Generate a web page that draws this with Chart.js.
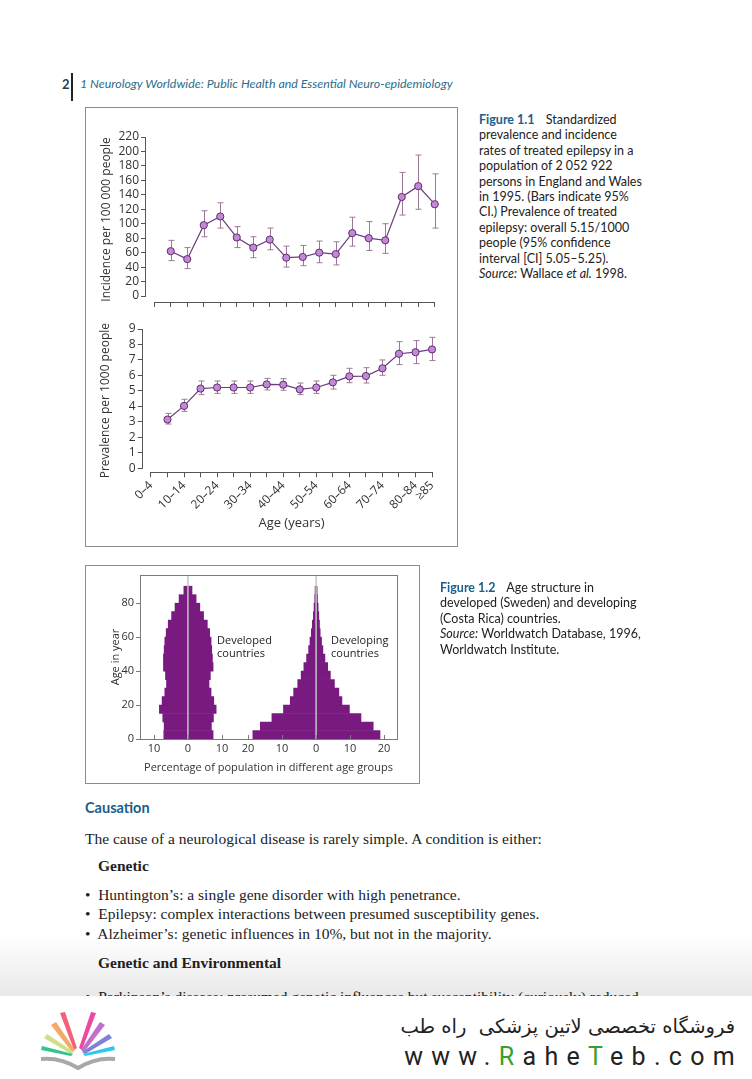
<!DOCTYPE html>
<html>
<head>
<meta charset="utf-8">
<script src="https://cdn.jsdelivr.net/npm/chart.js@4.4.1/dist/chart.umd.min.js"></script>
<style>
html, body { margin: 0; padding: 0; background: #fff; }
body { width: 752px; height: 1079px; position: relative; overflow: hidden; font-family: Lato, sans-serif; color: #222; }
.abs { position: absolute; white-space: nowrap; }
.box { position: absolute; border: 1px solid #8c8c8c; box-sizing: border-box; }
canvas { position: absolute; }
.cap { position: absolute; font-family: Lato, sans-serif; font-size: 12.5px; line-height: 15.4px; color: #222; white-space: nowrap; }
.cap b { color: #1b5e8c; font-weight: 700; margin-right: 8px; }
.serif { font-family: "Liberation Serif", serif; font-size: 15.5px; color: #222; }
.note { position: absolute; font-family: "Open Sans", sans-serif; font-size: 11px; line-height: 13px; color: #222; white-space: nowrap; }
</style>
</head>
<body>

<!-- running header -->
<div class="abs" style="left:62px; top:76px; font: 700 13px Lato, sans-serif; color:#1d3f5a;">2</div>
<div class="abs" style="left:71px; top:73px; width:1.5px; height:28px; background:#222;"></div>
<div class="abs" style="left:80px; top:76px; font: italic 12.4px Lato, sans-serif; color:#2a6d8c;">1 Neurology Worldwide: Public Health and Essential Neuro-epidemiology</div>

<!-- figure 1.1 -->
<div class="box" style="left:85px; top:107px; width:373px; height:440px;"></div>
<canvas id="incidenceChart" width="373" height="200" style="left:85px; top:117px; width:373px; height:200px;"></canvas>
<canvas id="prevalenceChart" width="373" height="236" style="left:85px; top:310px; width:373px; height:236px;"></canvas>

<div class="cap" style="left:479px; top:112px;">
<b>Figure 1.1</b> Standardized<br>
prevalence and incidence<br>
rates of treated epilepsy in a<br>
population of 2 052 922<br>
persons in England and Wales<br>
in 1995. (Bars indicate 95%<br>
CI.) Prevalence of treated<br>
epilepsy: overall 5.15/1000<br>
people (95% confidence<br>
interval [CI] 5.05–5.25).<br>
<i>Source:</i> Wallace <i>et al.</i> 1998.
</div>

<!-- figure 1.2 -->
<div class="box" style="left:85px; top:565px; width:335px; height:219px;"></div>
<canvas id="pyramidChart" width="335" height="218" style="left:85px; top:565px; width:335px; height:218px;"></canvas>
<div class="note" style="left:217px; top:633px;">Developed<br>countries</div>
<div class="note" style="left:331px; top:633px;">Developing<br>countries</div>

<div class="cap" style="left:440px; top:580px;">
<b>Figure 1.2</b> Age structure in<br>
developed (Sweden) and developing<br>
(Costa Rica) countries.<br>
<i>Source:</i> Worldwatch Database, 1996,<br>
Worldwatch Institute.
</div>

<!-- body text -->
<div class="abs" style="left:85px; top:799px; font: 700 14.5px Lato, sans-serif; color:#1b5e8c;">Causation</div>
<div class="abs serif" style="left:85px; top:830px;">The cause of a neurological disease is rarely simple. A condition is either:</div>
<div class="abs serif" style="left:98px; top:857px; font-weight:700;">Genetic</div>
<div class="abs serif" style="left:85px; top:886px;">•&nbsp; Huntington’s: a single gene disorder with high penetrance.</div>
<div class="abs serif" style="left:85px; top:905px;">•&nbsp; Epilepsy: complex interactions between presumed susceptibility genes.</div>
<div class="abs serif" style="left:85px; top:925px;">•&nbsp; Alzheimer’s: genetic influences in 10%, but not in the majority.</div>
<div class="abs serif" style="left:98px; top:954px; font-weight:700;">Genetic and Environmental</div>
<div class="abs serif" style="left:85px; top:988px;">•&nbsp; Parkinson’s disease: presumed genetic influences but susceptibility (curiously) reduced</div>

<!-- watermark banner -->
<div class="abs" style="left:0; top:935px; width:752px; height:61px; background:linear-gradient(to bottom, rgba(0,0,0,0) 0%, rgba(0,0,0,0.09) 100%);"></div>
<div class="abs" style="left:0; top:996px; width:752px; height:83px; background:#fff;"></div>
<svg class="abs" style="left:38px; top:1010px;" width="80" height="60" viewBox="0 0 80 60">
  <polygon points="36,40 22,3 27,2 39,38" fill="#f2607a"/>
  <polygon points="34,42 13,15 18,12 37,40" fill="#f6a868"/>
  <polygon points="33,44 6,28 9,24 36,42" fill="#cfe08a"/>
  <polygon points="33,46 3,40 4,36 35,44" fill="#35c48c"/>
  <polygon points="44,40 58,3 53,2 41,38" fill="#ec4aa0"/>
  <polygon points="46,42 67,15 62,12 43,40" fill="#c070cc"/>
  <polygon points="47,44 74,28 71,24 44,42" fill="#7d82d8"/>
  <polygon points="47,46 77,40 76,36 45,44" fill="#30c8ea"/>
  <path d="M3 49 Q22 47 40 58 Q58 47 77 49" fill="none" stroke="#a8a8a8" stroke-width="4"/>
</svg>
<div class="abs" style="right:17px; top:1015px; font: 19.5px 'DejaVu Sans', sans-serif; color:#222; direction:rtl;">فروشگاه تخصصی لاتین پزشکی&nbsp; راه طب</div>
<div class="abs" style="right:9px; top:1042px; font: 25px Roboto, sans-serif; letter-spacing:8.3px; color:#222;">www.<span style="color:#3a9e2a">R</span>ahe<span style="color:#3a9e2a">T</span>eb.com</div>

<script>
// ---- data ----
const ageGroups = ['0–4', '5–9', '10–14', '15–19', '20–24', '25–29', '30–34', '35–39', '40–44',
                   '45–49', '50–54', '55–59', '60–64', '65–69', '70–74', '75–79', '80–84', '≥85'];

// incidence per 100 000 people, with 95% CI
const incidence     = [null, 62, 51, 98, 110, 81, 67, 78, 53, 54, 60, 58, 87, 80, 77, 137, 152, 127];
const incidenceLow  = [null, 49, 38, 82, 94, 67, 53, 64, 40, 42, 46, 43, 69, 63, 59, 112, 120, 94];
const incidenceHigh = [null, 77, 67, 118, 129, 96, 82, 94, 69, 70, 76, 75, 109, 103, 100, 171, 195, 169];

// prevalence per 1000 people, with 95% CI
const prevalence     = [null, 3.15, 4.03, 5.15, 5.22, 5.22, 5.22, 5.42, 5.40, 5.10, 5.22, 5.55, 5.94, 5.96, 6.46, 7.40, 7.50, 7.68];
const prevalenceLow  = [null, 2.86, 3.68, 4.76, 4.84, 4.84, 4.84, 5.06, 5.04, 4.76, 4.84, 5.12, 5.53, 5.51, 6.01, 6.70, 6.76, 6.96];
const prevalenceHigh = [null, 3.55, 4.46, 5.64, 5.64, 5.64, 5.64, 5.81, 5.79, 5.51, 5.64, 6.01, 6.46, 6.50, 7.00, 8.18, 8.25, 8.46];

// age pyramids: centre of each 5-year band, % on left / right of the centre line
const bandCentres     = [2.5, 7.5, 12.5, 17.5, 22.5, 27.5, 32.5, 37.5, 42.5, 47.5, 52.5, 57.5, 62.5, 67.5, 72.5, 77.5, 82.5, 87.5];
const developedLeft   = [7.1, 7.0, 7.4, 8.4, 7.6, 6.8, 6.3, 6.6, 7.2, 7.2, 7.0, 6.8, 6.4, 5.8, 4.8, 3.8, 2.6, 1.2];
const developedRight  = [7.4, 6.9, 7.5, 8.3, 7.6, 6.8, 6.2, 6.6, 7.4, 7.2, 7.0, 6.8, 6.4, 5.7, 4.6, 3.5, 2.4, 1.2];
const developingLeft  = [18.6, 16.4, 13.0, 9.6, 7.6, 6.6, 5.4, 4.4, 3.6, 2.8, 2.2, 1.8, 1.4, 1.1, 0.8, 0.6, 0.4, 0.3];
const developingRight = [18.8, 16.8, 13.2, 9.8, 7.6, 6.7, 5.4, 4.2, 3.4, 2.6, 2.0, 1.6, 1.2, 1.0, 0.8, 0.6, 0.4, 0.3];
const leftPyramidTicks  = [-10, 0, 10];
const rightPyramidTicks = [-20, -10, 0, 10, 20];
const ageTicksStep = 20;

// ---- styling ----
Chart.defaults.font.family = "'Open Sans', sans-serif";
Chart.defaults.color = '#333';
const axisColor = '#555';
const lineColor = '#6d3a7d';
const markerFill = '#c389d6';
const errorColor = '#9c7898';
const barColor = '#781a80';
const rightCentre = 37.7;   // where the second pyramid's zero sits on the shared x axis

// error bars, drawn under the markers
const errorBars = {
    id: 'errorBars',
    beforeDatasetsDraw(chart, args, opts) {
        const {ctx, scales: {x, y}} = chart;
        ctx.save();
        ctx.strokeStyle = errorColor;
        ctx.lineWidth = 1;
        ctx.beginPath();
        opts.low.forEach((lo, i) => {
            if (lo === null) return;
            const px = Math.round(x.getPixelForValue(i)) + 0.5;
            const y1 = y.getPixelForValue(lo);
            const y2 = y.getPixelForValue(opts.high[i]);
            ctx.moveTo(px, y1); ctx.lineTo(px, y2);
            ctx.moveTo(px - 3, y1); ctx.lineTo(px + 3, y1);
            ctx.moveTo(px - 3, y2); ctx.lineTo(px + 3, y2);
        });
        ctx.stroke();
        ctx.restore();
    }
};

// detached axis lines: y from 0 to max, x from first to last category
const rangeAxes = {
    id: 'rangeAxes',
    afterDraw(chart, args, opts) {
        const {ctx, chartArea, scales: {x, y}} = chart;
        ctx.save();
        ctx.strokeStyle = axisColor;
        ctx.lineWidth = 1;
        ctx.beginPath();
        const ax = Math.round(chartArea.left) - 0.5;
        ctx.moveTo(ax, y.getPixelForValue(opts.yMax));
        ctx.lineTo(ax, y.getPixelForValue(0));
        const by = Math.round(chartArea.bottom) + 0.5;
        ctx.moveTo(x.getPixelForValue(0), by);
        ctx.lineTo(x.getPixelForValue(ageGroups.length - 1), by);
        ctx.stroke();
        ctx.restore();
    }
};

function lineChart(id, values, low, high, cfg) {
    return new Chart(document.getElementById(id), {
        type: 'line',
        data: {
            labels: ageGroups,
            datasets: [{
                data: values,
                borderColor: lineColor,
                borderWidth: 1.2,
                pointRadius: 3.6,
                pointBackgroundColor: markerFill,
                pointBorderColor: '#5e2d6e',
                pointBorderWidth: 1
            }]
        },
        options: {
            responsive: false,
            animation: false,
            layout: { padding: cfg.padding },
            plugins: {
                legend: { display: false },
                tooltip: { enabled: false },
                errorBars: { low: low, high: high },
                rangeAxes: { yMax: cfg.yMax }
            },
            scales: {
                x: {
                    offset: true,
                    border: { display: false },
                    grid: { drawOnChartArea: false, color: axisColor, tickLength: 5 },
                    ticks: cfg.xTicks,
                    title: cfg.xTitle,
                    afterFit: s => { s.height = cfg.xHeight; }
                },
                y: {
                    min: cfg.yMin,
                    max: cfg.yMax,
                    border: { display: false },
                    grid: { drawOnChartArea: false, color: axisColor, tickLength: 5 },
                    ticks: { stepSize: cfg.yStep, autoSkip: false, includeBounds: false, padding: 2, font: { size: 12 }, color: '#333' },
                    title: { display: true, text: cfg.yTitle, font: { size: 12 }, color: '#333', padding: { top: 4, bottom: 0 } },
                    afterFit: s => { s.width = cfg.yWidth; }
                }
            }
        },
        plugins: [errorBars, rangeAxes]
    });
}

lineChart('incidenceChart', incidence, incidenceLow, incidenceHigh, {
    padding: { left: 10, right: 15, top: 20, bottom: 0 },
    yMin: -8.3, yMax: 220, yStep: 20, yWidth: 51, xHeight: 15,
    yTitle: 'Incidence per 100 000 people',
    xTicks: { display: false },
    xTitle: { display: false }
});

lineChart('prevalenceChart', prevalence, prevalenceLow, prevalenceHigh, {
    padding: { left: 9.5, right: 17.7, top: 19, bottom: 11 },
    yMin: -0.26, yMax: 9, yStep: 1, yWidth: 48.2, xHeight: 62.7,
    yTitle: 'Prevalence per 1000 people',
    xTicks: {
        autoSkip: false, minRotation: 45, maxRotation: 45, padding: 1,
        font: { size: 12 }, color: '#333',
        callback: (v, i) => (i % 2 === 0 || i === ageGroups.length - 1 ? ageGroups[i] : '')
    },
    xTitle: { display: true, text: 'Age (years)', font: { size: 13 }, color: '#333', padding: { top: 0, bottom: 4 } }
});

// ---- age pyramids ----
const pyramidTickValues = leftPyramidTicks.concat(rightPyramidTicks.map(v => v + rightCentre));
const pyramidTickLabels = leftPyramidTicks.concat(rightPyramidTicks).map(v => String(Math.abs(v)));

const pyramidFrame = {
    id: 'pyramidFrame',
    afterDatasetsDraw(chart) {
        const {ctx, chartArea: a, scales: {x}} = chart;
        ctx.save();
        ctx.strokeStyle = '#c4c4c4';
        ctx.lineWidth = 1.5;
        ctx.beginPath();
        [0, rightCentre].forEach(v => {
            const px = x.getPixelForValue(v);
            ctx.moveTo(px, a.top);
            ctx.lineTo(px, a.bottom);
        });
        ctx.stroke();
        ctx.strokeStyle = '#7a7a7a';
        ctx.lineWidth = 1;
        ctx.strokeRect(Math.round(a.left) + 0.5, Math.round(a.top) + 0.5,
                       Math.round(a.right - a.left), Math.round(a.bottom - a.top));
        ctx.beginPath();
        x.ticks.forEach((t, i) => {
            const px = Math.round(x.getPixelForTick(i)) + 0.5;
            ctx.moveTo(px, a.bottom);
            ctx.lineTo(px, a.bottom - 4);
        });
        ctx.stroke();
        ctx.restore();
    }
};

new Chart(document.getElementById('pyramidChart'), {
    type: 'bar',
    data: {
        datasets: [
            {
                label: 'Developed countries',
                data: bandCentres.map((age, i) => ({ y: age, x: [-developedLeft[i], developedRight[i]] })),
                backgroundColor: barColor
            },
            {
                label: 'Developing countries',
                data: bandCentres.map((age, i) => ({ y: age, x: [rightCentre - developingLeft[i], rightCentre + developingRight[i]] })),
                backgroundColor: barColor
            }
        ]
    },
    options: {
        indexAxis: 'y',
        responsive: false,
        animation: false,
        grouped: false,
        barPercentage: 1,
        categoryPercentage: 1,
        borderWidth: 0,
        layout: { padding: { left: 20, right: 23, top: 10, bottom: 4.7 } },
        plugins: { legend: { display: false }, tooltip: { enabled: false } },
        scales: {
            x: {
                type: 'linear',
                min: -14.1,
                max: 61.5,
                border: { display: false },
                grid: { display: false, drawTicks: false },
                afterBuildTicks: s => { s.ticks = pyramidTickValues.map(v => ({ value: v })); },
                ticks: { font: { size: 11 }, color: '#333', padding: 3, callback: (v, i) => pyramidTickLabels[i] },
                title: { display: true, text: 'Percentage of population in different age groups', font: { size: 11 }, color: '#333', padding: { top: 0, bottom: 4 } },
                afterFit: s => { s.height = 39.3; }
            },
            y: {
                type: 'linear',
                offset: false,
                min: 0,
                max: 96.6,
                border: { display: false },
                grid: { offset: false, drawOnChartArea: false, color: '#7a7a7a', tickLength: 4 },
                ticks: { stepSize: ageTicksStep, autoSkip: false, includeBounds: false, font: { size: 11 }, color: '#333', padding: 2 },
                title: { display: true, text: 'Age in year', font: { size: 11 }, color: '#333', padding: { top: 4, bottom: 0 } },
                afterFit: s => { s.width = 35; }
            }
        }
    },
    plugins: [pyramidFrame]
});
</script>
</body>
</html>
